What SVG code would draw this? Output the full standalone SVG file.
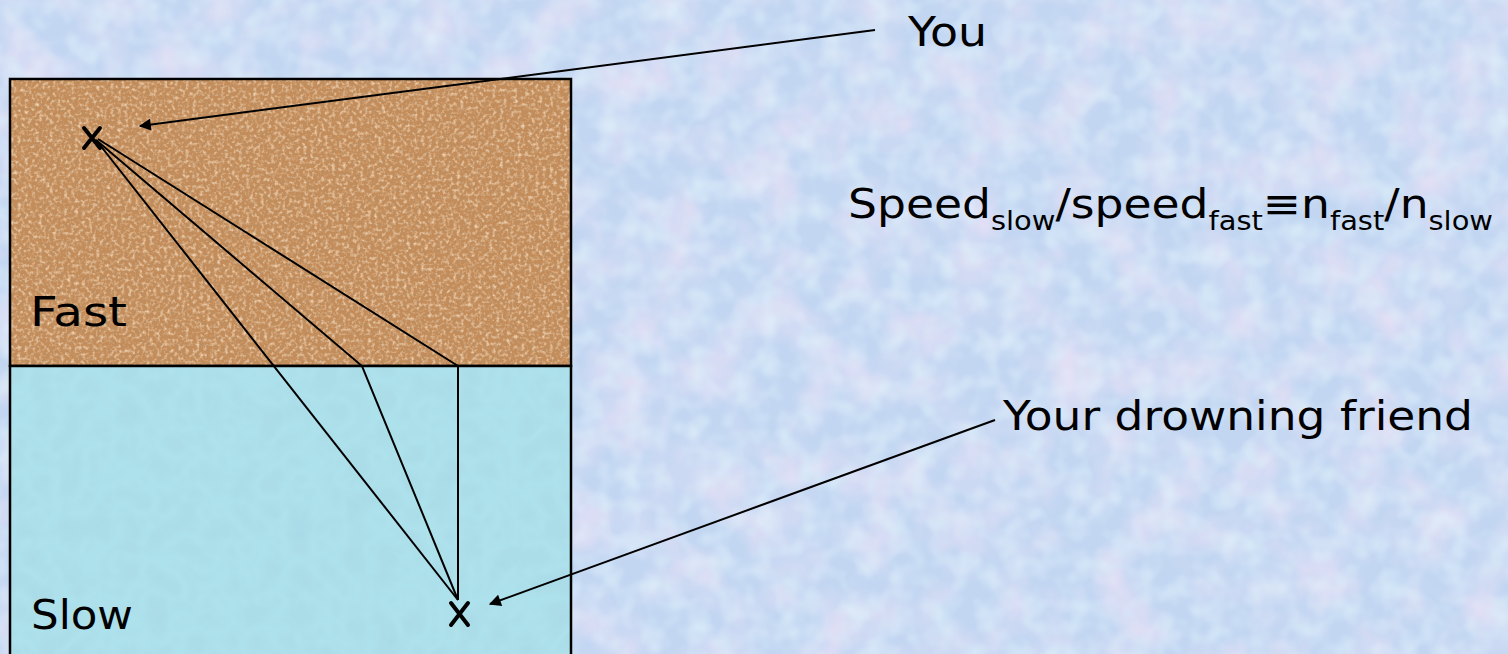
<svg xmlns="http://www.w3.org/2000/svg" width="1508" height="654" viewBox="0 0 1508 654">
<defs>
<style>
.t{font-family:"Comic Sans MS","DejaVu Sans","Noto Sans",sans-serif;font-size:41px;fill:#000}
.s{font-size:26px}
.ln{stroke:#000;stroke-width:2;fill:none}
.bd{stroke:#000;stroke-width:2.5;fill:none}
.x{stroke:#000;stroke-width:4;stroke-linecap:round;fill:none}
</style>
<marker id="ah" viewBox="0 0 10 10" refX="9" refY="5" markerWidth="15" markerHeight="12" markerUnits="userSpaceOnUse" orient="auto-start-reverse"><path d="M0,0 L10,5 L0,10 z" fill="#000"/></marker>
<filter id="bgn" x="0" y="0" width="100%" height="100%"><feTurbulence type="fractalNoise" baseFrequency="0.02" numOctaves="3" seed="3"/><feColorMatrix values="0 0 0 0 0.9  0 0 0 0 0.78  0 0 0 0 0.93  1.3 0 0 0 -0.5"/></filter>
<filter id="bgn2" x="0" y="0" width="100%" height="100%"><feTurbulence type="fractalNoise" baseFrequency="0.045" numOctaves="2" seed="11"/><feColorMatrix values="0 0 0 0 0.74  0 0 0 0 0.88  0 0 0 0 0.96  0 1.4 0 0 -0.55"/></filter>
<filter id="sand" x="0" y="0" width="100%" height="100%"><feTurbulence type="fractalNoise" baseFrequency="0.3" numOctaves="3" seed="7"/><feColorMatrix values="0 0 0 0 0.5  0 0 0 0 0.27  0 0 0 0 0.12  3 0 0 0 -1.25"/></filter>
<filter id="sand2" x="0" y="0" width="100%" height="100%"><feTurbulence type="fractalNoise" baseFrequency="0.28" numOctaves="2" seed="19"/><feColorMatrix values="0 0 0 0 0.86  0 0 0 0 0.64  0 0 0 0 0.44  2.5 0 0 0 -1.15"/></filter>
<filter id="water" x="0" y="0" width="100%" height="100%"><feTurbulence type="turbulence" baseFrequency="0.035" numOctaves="2" seed="5"/><feColorMatrix values="0 0 0 0 0.4  0 0 0 0 0.7  0 0 0 0 0.8  0 0 0 1.4 -0.1"/></filter>
</defs>
<rect width="1508" height="654" fill="#c2d6f2"/>
<rect width="1508" height="654" filter="url(#bgn)"/>
<rect width="1508" height="654" filter="url(#bgn2)"/>
<g id="fast">
<rect x="10" y="79" width="561" height="287" fill="#c48c59"/>
<rect x="10" y="79" width="561" height="287" filter="url(#sand)"/>
<rect x="10" y="79" width="561" height="287" filter="url(#sand2)"/>
<rect x="10" y="79" width="561" height="287" class="bd"/>
<text class="t" x="30" y="326" textLength="97" lengthAdjust="spacingAndGlyphs">Fast</text>
</g>
<g id="slow">
<rect x="10" y="366" width="561" height="300" fill="#ade1eb"/>
<rect x="10" y="366" width="561" height="300" filter="url(#water)"/>
<rect x="10" y="366" width="561" height="300" class="bd"/>
<text class="t" x="31" y="629" textLength="102" lengthAdjust="spacingAndGlyphs">Slow</text>
</g>
<g id="you-mark"><path class="x" d="M84,128 L100,148 M100,128 L84,148"/></g>
<g id="friend-mark"><path class="x" d="M451,603 L468,625 M468,603 L451,625"/></g>
<g id="you-label"><text class="t" x="908" y="46" textLength="79" lengthAdjust="spacingAndGlyphs">You</text></g>
<g id="friend-label"><text class="t" x="1003" y="430" textLength="470" lengthAdjust="spacingAndGlyphs">Your drowning friend</text></g>
<g id="formula"><text class="t" x="848" y="218" textLength="645" lengthAdjust="spacingAndGlyphs">Speed<tspan class="s" dy="12">slow</tspan><tspan dy="-12">/speed</tspan><tspan class="s" dy="12">fast</tspan><tspan dy="-12">≡n</tspan><tspan class="s" dy="12">fast</tspan><tspan dy="-12">/n</tspan><tspan class="s" dy="12">slow</tspan></text></g>
<g id="connectors">
<path class="ln" d="M96,140 L458,600"/>
<path class="ln" d="M96,140 L362,366 L458,600"/>
<path class="ln" d="M98,139 L458,366 L458,600"/>
<path class="ln" d="M875,30 L140,126" marker-end="url(#ah)"/>
<path class="ln" d="M995,420 L490,604" marker-end="url(#ah)"/>
</g>
</svg>
